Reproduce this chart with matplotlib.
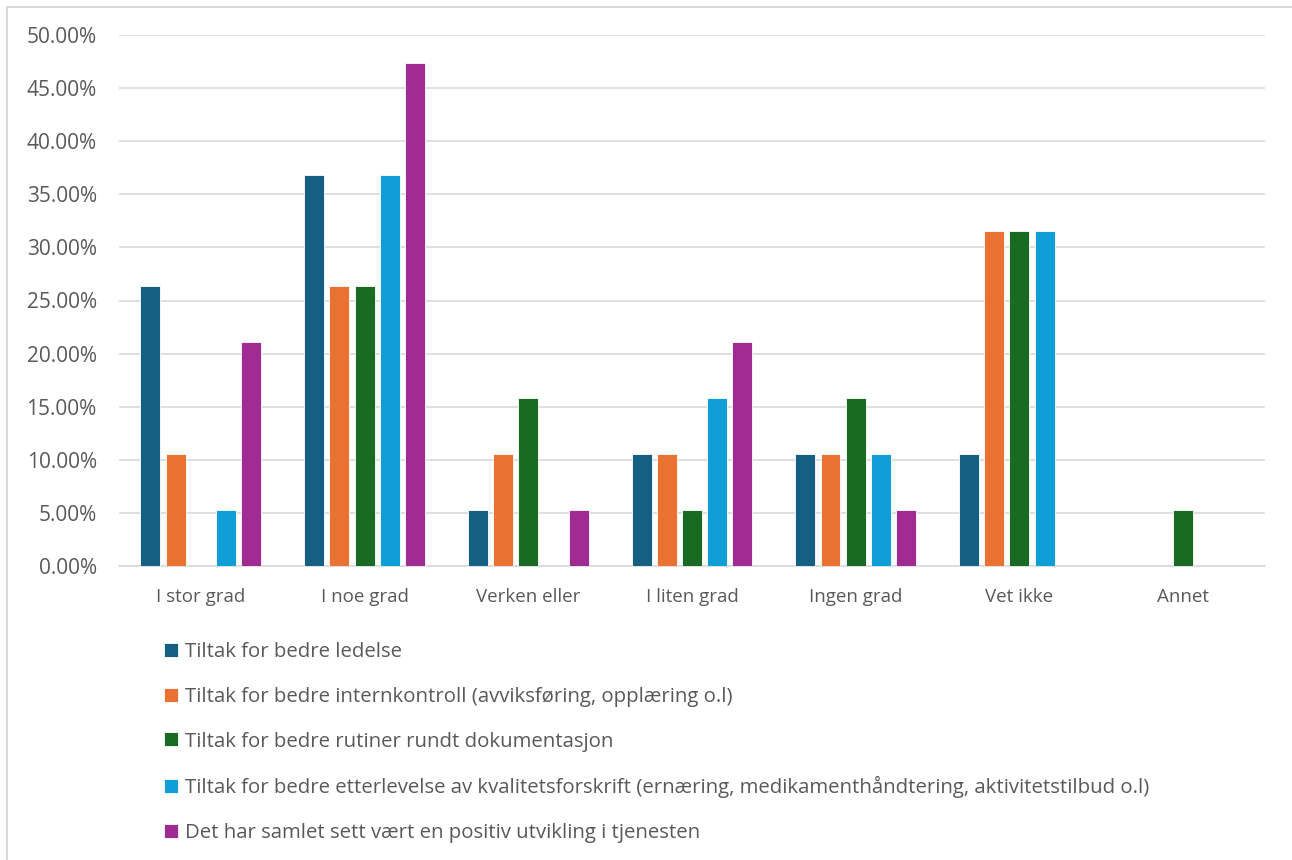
import matplotlib
matplotlib.use("Agg")
import matplotlib.pyplot as plt
from matplotlib.ticker import FuncFormatter, MultipleLocator
from matplotlib.lines import Line2D
import numpy as np

categories = ["I stor grad", "I noe grad", "Verken eller", "I liten grad", "Ingen grad", "Vet ikke", "Annet"]
series_names = [
    "Tiltak for bedre ledelse",
    "Tiltak for bedre internkontroll (avviksføring, opplæring o.l)",
    "Tiltak for bedre rutiner rundt dokumentasjon",
    "Tiltak for bedre etterlevelse av kvalitetsforskrift (ernæring, medikamenthåndtering, aktivitetstilbud o.l)",
    "Det har samlet sett vært en positiv utvikling i tjenesten",
]
ledelse = [26.32, 36.84, 5.26, 10.53, 10.53, 10.53, 0.0]
internkontroll = [10.53, 26.32, 10.53, 10.53, 10.53, 31.58, 0.0]
dokumentasjon = [0.0, 26.32, 15.79, 5.26, 15.79, 31.58, 5.26]
kvalitetsforskrift = [5.26, 36.84, 0.0, 15.79, 10.53, 31.58, 0.0]
positiv = [21.05, 47.37, 5.26, 21.05, 5.26, 0.0, 0.0]
series_values = [ledelse, internkontroll, dokumentasjon, kvalitetsforskrift, positiv]
colors = ["#156082", "#E97132", "#196B24", "#0F9ED5", "#A02B93"]

plt.rcParams['font.family'] = ['Open Sans', 'DejaVu Sans']

fig = plt.figure(figsize=(12.92, 8.6), dpi=100)
W, H = 1292, 860
ax = fig.add_axes([119 / W, 1 - 566 / H, (1265 - 119) / W, (566 - 35) / H])

x = np.arange(len(categories))
step = 0.154
width = 0.122
for i, (name, vals, c) in enumerate(zip(series_names, series_values, colors)):
    ax.bar(x + (i - 2) * step, vals, width=width, color=c, label=name,
           edgecolor="white", linewidth=0.6, zorder=3)

ax.set_xlim(-0.5, len(categories) - 0.5)
ax.set_ylim(0, 50)
ax.yaxis.set_major_locator(MultipleLocator(5))
ax.yaxis.set_major_formatter(FuncFormatter(lambda v, p: f"{v:.2f}%"))
ax.set_xticks(x)
ax.set_xticklabels(categories)
ax.grid(axis="y", color="#D9D9D9", linewidth=1.2, zorder=0)
for s in ["top", "right", "left"]:
    ax.spines[s].set_visible(False)
ax.spines["bottom"].set_color("#D9D9D9")
ax.spines["bottom"].set_linewidth(1.2)
ax.tick_params(axis="both", length=0, labelcolor="#595959")
ax.tick_params(axis="y", pad=16, labelsize=15)
ax.tick_params(axis="x", pad=16, labelsize=13.5)

leg = fig.legend(loc="upper left", bbox_to_anchor=(156 / W, 1 - 634 / H), frameon=False,
                 fontsize=14.7, labelcolor="#595959", handlelength=0.68, handleheight=0.68,
                 handletextpad=0.33, labelspacing=1.21, borderaxespad=0)

fig.add_artist(Line2D([6.5 / W, 6.5 / W], [0, 1 - 6.5 / H], transform=fig.transFigure,
                      color="#D9D9D9", linewidth=1.5))
fig.add_artist(Line2D([6.5 / W, 1], [1 - 6.5 / H, 1 - 6.5 / H], transform=fig.transFigure,
                      color="#D9D9D9", linewidth=1.5))

fig.savefig("out.png", dpi=100)
